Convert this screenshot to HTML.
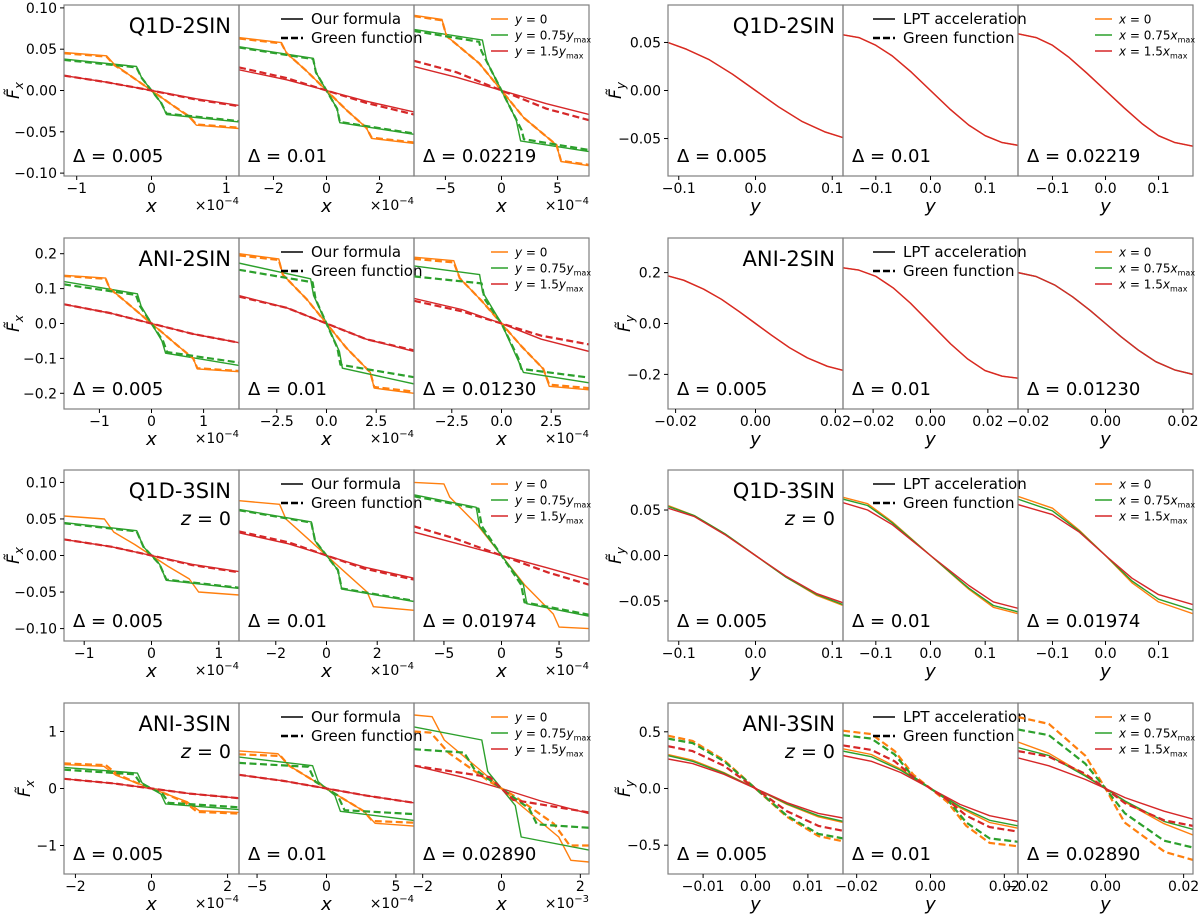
<!DOCTYPE html>
<html><head><meta charset="utf-8"><style>
body{margin:0;background:#fff;}
svg{display:block;font-family:"DejaVu Sans","Liberation Sans",sans-serif;}
</style></head><body>
<svg id="fig" width="1200" height="915" viewBox="0 0 1200 915" xmlns="http://www.w3.org/2000/svg"></svg>
<script>
// ---------- data ----------
const rowTitles = ["Q1D-2SIN","ANI-2SIN","Q1D-3SIN","ANI-3SIN"];
const deltas = [["0.005","0.01","0.02219"],["0.005","0.01","0.01230"],["0.005","0.01","0.01974"],["0.005","0.01","0.02890"]];
const leftXlim = [[1.17,3.3,7.8],[1.68,4.4,4.4],[1.3,3.45,7.6],[2.3,6.3,2.22]];
const rightXlim = [[0.114,0.16,0.165],[0.0219,0.0305,0.0226],[0.114,0.16,0.165],[0.0167,0.0237,0.0224]];
const leftYlim = [0.1035,0.245,0.117,1.5];
const rightYlim = [0.089,0.336,0.094,0.754];
const leftXticks = [[[-1,0,1],[-2,0,2],[-5,0,5]],[[-1,0,1],[-2.5,0,2.5],[-2.5,0,2.5]],[[-1,0,1],[-2,0,2],[-5,0,5]],[[-2,0,2],[-5,0,5],[-2,0,2]]];
const leftXtickLabels = [[["−1","0","1"],["−2","0","2"],["−5","0","5"]],[["−1","0","1"],["−2.5","0.0","2.5"],["−2.5","0.0","2.5"]],[["−1","0","1"],["−2","0","2"],["−5","0","5"]],[["−2","0","2"],["−5","0","5"],["−2","0","2"]]];
const leftExp = [["−4","−4","−4"],["−4","−4","−4"],["−4","−4","−4"],["−4","−4","−3"]];
const rightXticks = [[[-0.1,0,0.1],[-0.1,0,0.1],[-0.1,0,0.1]],[[-0.02,0,0.02],[-0.02,0,0.02],[-0.02,0,0.02]],[[-0.1,0,0.1],[-0.1,0,0.1],[-0.1,0,0.1]],[[-0.01,0,0.01],[-0.02,0,0.02],[-0.02,0,0.02]]];
const rightXtickLabels = [[["−0.1","0.0","0.1"],["−0.1","0.0","0.1"],["−0.1","0.0","0.1"]],[["−0.02","0.00","0.02"],["−0.02","0.00","0.02"],["−0.02","0.00","0.02"]],[["−0.1","0.0","0.1"],["−0.1","0.0","0.1"],["−0.1","0.0","0.1"]],[["−0.01","0.00","0.01"],["−0.02","0.00","0.02"],["−0.02","0.00","0.02"]]];
const leftYticks = [[0.1,0.05,0,-0.05,-0.1],[0.2,0.1,0,-0.1,-0.2],[0.1,0.05,0,-0.05,-0.1],[1,0,-1]];
const leftYtickLabels = [["0.10","0.05","0.00","−0.05","−0.10"],["0.2","0.1","0.0","−0.1","−0.2"],["0.10","0.05","0.00","−0.05","−0.10"],["1","0","−1"]];
const rightYticks = [[0.05,0,-0.05],[0.2,0,-0.2],[0.05,0,-0.05],[0.5,0,-0.5]];
const rightYtickLabels = [["0.05","0.00","−0.05"],["0.2","0.0","−0.2"],["0.05","0.00","−0.05"],["0.5","0.0","−0.5"]];

// series: [color, dashed, points]
const r1L = [
 [["o",0,[[-1.17,.046],[-.6,.042],[-.5,.032],[-.3,.019],[0,0],[.3,-.019],[.5,-.032],[.6,-.042],[1.17,-.046]]],
  ["g",0,[[-1.17,.038],[-.2,.029],[-.13,.015],[0,0],[.13,-.015],[.2,-.029],[1.17,-.038]]],
  ["r",0,[[-1.17,.018],[-.6,.010],[0,0],[.6,-.010],[1.17,-.018]]],
  ["o",1,[[-1.17,.045],[-.6,.041],[-.5,.031],[-.3,.019],[0,0],[.3,-.019],[.5,-.031],[.6,-.041],[1.17,-.045]]],
  ["g",1,[[-1.17,.037],[-.2,.028],[-.13,.015],[0,0],[.13,-.015],[.2,-.028],[1.17,-.037]]],
  ["r",1,[[-1.17,.018],[-.6,.010],[0,0],[.6,-.011],[1.17,-.019]]]],
 [["o",0,[[-3.3,.064],[-1.7,.058],[-1.5,.045],[-.8,.025],[0,0],[.8,-.025],[1.5,-.045],[1.7,-.058],[3.3,-.064]]],
  ["g",0,[[-3.3,.053],[-.5,.039],[-.4,.022],[0,0],[.4,-.022],[.5,-.039],[3.3,-.053]]],
  ["r",0,[[-3.3,.025],[-1.5,.013],[0,0],[1.5,-.013],[3.3,-.026]]],
  ["o",1,[[-3.3,.063],[-1.7,.057],[-1.5,.045],[-.8,.025],[0,0],[.8,-.025],[1.5,-.045],[1.7,-.057],[3.3,-.063]]],
  ["g",1,[[-3.3,.052],[-.5,.038],[-.4,.022],[0,0],[.4,-.022],[.5,-.038],[3.3,-.052]]],
  ["r",1,[[-3.3,.028],[-1.5,.015],[0,0],[1.5,-.015],[3.3,-.029]]]],
 [["o",0,[[-7.8,.091],[-5.3,.086],[-4.9,.066],[-2,.033],[0,0],[2,-.033],[4.9,-.066],[5.3,-.086],[7.8,-.091]]],
  ["g",0,[[-7.8,.074],[-1.7,.061],[-1.3,.035],[0,0],[1.3,-.035],[1.7,-.061],[7.8,-.074]]],
  ["r",0,[[-7.8,.029],[-4,.016],[0,0],[4,-.016],[7.8,-.029]]],
  ["o",1,[[-7.8,.090],[-5.3,.085],[-4.9,.066],[-2,.033],[0,0],[2,-.033],[4.9,-.066],[5.3,-.085],[7.8,-.090]]],
  ["g",1,[[-7.8,.072],[-2,.059],[-1.8,.048],[0,0],[1.8,-.048],[2,-.059],[7.8,-.072]]],
  ["r",1,[[-7.8,.036],[-4,.022],[0,0],[4,-.022],[7.8,-.036]]]]
];
const r1R = [
 [["o",0,[[-.114,.050],[-.09,.043],[-.06,.032],[-.03,.017],[0,0],[.03,-.017],[.06,-.032],[.09,-.043],[.114,-.049]]],
  ["r",0,[[-.114,.050],[-.09,.043],[-.06,.032],[-.03,.017],[0,0],[.03,-.017],[.06,-.032],[.09,-.043],[.114,-.049]]]],
 [["o",0,[[-.16,.058],[-.13,.055],[-.1,.047],[-.07,.036],[-.035,.019],[0,0],[.035,-.019],[.07,-.036],[.1,-.047],[.13,-.054],[.16,-.057]]],
  ["r",0,[[-.16,.058],[-.13,.055],[-.1,.047],[-.07,.036],[-.035,.019],[0,0],[.035,-.019],[.07,-.036],[.1,-.047],[.13,-.054],[.16,-.057]]]],
 [["o",0,[[-.165,.059],[-.13,.055],[-.1,.047],[-.07,.035],[-.035,.018],[0,0],[.035,-.018],[.07,-.035],[.1,-.047],[.13,-.054],[.165,-.058]]],
  ["r",0,[[-.165,.059],[-.13,.055],[-.1,.047],[-.07,.035],[-.035,.018],[0,0],[.035,-.018],[.07,-.035],[.1,-.047],[.13,-.054],[.165,-.058]]]]
];
const r2L = [
 [["o",0,[[-1.68,.138],[-.88,.13],[-.8,.10],[-.5,.063],[-.2,.025],[0,0],[.2,-.025],[.5,-.063],[.8,-.10],[.88,-.13],[1.68,-.138]]],
  ["g",0,[[-1.68,.12],[-.27,.085],[-.2,.05],[0,0],[.2,-.05],[.27,-.085],[1.68,-.12]]],
  ["r",0,[[-1.68,.055],[-.8,.03],[0,0],[.8,-.03],[1.68,-.055]]],
  ["o",1,[[-1.68,.136],[-.88,.128],[-.8,.10],[-.5,.063],[-.2,.025],[0,0],[.2,-.025],[.5,-.063],[.8,-.10],[.88,-.128],[1.68,-.136]]],
  ["g",1,[[-1.68,.112],[-.3,.082],[-.22,.05],[0,0],[.22,-.05],[.3,-.082],[1.68,-.112]]],
  ["r",1,[[-1.68,.055],[-.8,.03],[0,0],[.8,-.03],[1.68,-.055]]]],
 [["o",0,[[-4.4,.2],[-2.4,.185],[-2.2,.14],[-1,.07],[0,0],[1,-.07],[2.2,-.14],[2.4,-.185],[4.4,-.2]]],
  ["g",0,[[-4.4,.173],[-.8,.128],[-.65,.08],[0,0],[.65,-.08],[.8,-.128],[4.4,-.173]]],
  ["r",0,[[-4.4,.08],[-2,.045],[0,0],[2,-.045],[4.4,-.08]]],
  ["o",1,[[-4.4,.195],[-2.4,.182],[-2.2,.14],[-1,.07],[0,0],[1,-.07],[2.2,-.14],[2.4,-.182],[4.4,-.195]]],
  ["g",1,[[-4.4,.154],[-.7,.118],[-.55,.07],[0,0],[.55,-.07],[.7,-.118],[4.4,-.154]]],
  ["r",1,[[-4.4,.077],[-2,.045],[0,0],[2,-.045],[4.4,-.077]]]],
 [["o",0,[[-4.4,.19],[-2.4,.18],[-2.1,.13],[-1,.065],[0,0],[1,-.065],[2.1,-.13],[2.4,-.18],[4.4,-.19]]],
  ["g",0,[[-4.4,.165],[-1.1,.14],[-.95,.09],[0,0],[.95,-.12],[1.1,-.14],[4.4,-.17]]],
  ["r",0,[[-4.4,.072],[-2,.04],[0,0],[2,-.045],[4.4,-.08]]],
  ["o",1,[[-4.4,.185],[-2.4,.175],[-2.1,.13],[-1,.065],[0,0],[1,-.065],[2.1,-.13],[2.4,-.175],[4.4,-.185]]],
  ["g",1,[[-4.4,.135],[-1,.115],[-.85,.07],[0,0],[.85,-.1],[1,-.13],[4.4,-.155]]],
  ["r",1,[[-4.4,.065],[-2,.035],[0,0],[2,-.035],[4.4,-.06]]]]
];
const r2R = [
 [["o",0,[[-.0219,.187],[-.018,.17],[-.013,.135],[-.0085,.095],[-.004,.046],[0,0],[.004,-.046],[.0085,-.095],[.013,-.135],[.018,-.168],[.0219,-.184]]],
  ["r",0,[[-.0219,.187],[-.018,.17],[-.013,.135],[-.0085,.095],[-.004,.046],[0,0],[.004,-.046],[.0085,-.095],[.013,-.135],[.018,-.168],[.0219,-.184]]]],
 [["o",0,[[-.0305,.219],[-.025,.21],[-.019,.185],[-.013,.14],[-.007,.08],[0,0],[.007,-.08],[.013,-.14],[.019,-.185],[.025,-.207],[.0305,-.215]]],
  ["r",0,[[-.0305,.219],[-.025,.21],[-.019,.185],[-.013,.14],[-.007,.08],[0,0],[.007,-.08],[.013,-.14],[.019,-.185],[.025,-.207],[.0305,-.215]]]],
 [["g",0,[[-.0226,.2],[-.018,.185],[-.013,.15],[-.0085,.105],[-.004,.052],[0,0],[.004,-.052],[.0085,-.105],[.013,-.15],[.018,-.183],[.0226,-.2]]],
  ["r",0,[[-.0226,.2],[-.018,.185],[-.013,.15],[-.0085,.105],[-.004,.052],[0,0],[.004,-.052],[.0085,-.105],[.013,-.15],[.018,-.183],[.0226,-.2]]]]
];
const r3L = [
 [["o",0,[[-1.3,.054],[-.7,.05],[-.56,.032],[-.25,.015],[0,0],[.25,-.015],[.56,-.032],[.7,-.05],[1.3,-.054]]],
  ["g",0,[[-1.3,.045],[-.22,.034],[-.12,.012],[0,0],[.12,-.012],[.22,-.034],[1.3,-.045]]],
  ["r",0,[[-1.3,.022],[-.6,.012],[0,0],[.6,-.012],[1.3,-.022]]],
  ["g",1,[[-1.3,.044],[-.22,.033],[-.12,.012],[0,0],[.12,-.012],[.22,-.033],[1.3,-.044]]],
  ["r",1,[[-1.3,.022],[-.6,.012],[0,0],[.6,-.013],[1.3,-.023]]]],
 [["o",0,[[-3.45,.075],[-1.85,.07],[-1.6,.05],[-.8,.025],[0,0],[.8,-.025],[1.6,-.05],[1.85,-.07],[3.45,-.075]]],
  ["g",0,[[-3.45,.063],[-.6,.046],[-.45,.02],[0,0],[.45,-.02],[.6,-.046],[3.45,-.063]]],
  ["r",0,[[-3.45,.031],[-1.5,.016],[0,0],[1.5,-.016],[3.45,-.031]]],
  ["g",1,[[-3.45,.062],[-.6,.045],[-.45,.02],[0,0],[.45,-.02],[.6,-.045],[3.45,-.062]]],
  ["r",1,[[-3.45,.033],[-1.5,.018],[0,0],[1.5,-.018],[3.45,-.033]]]],
 [["o",0,[[-7.6,.1],[-5,.098],[-4.5,.08],[-2,.04],[0,0],[2,-.04],[4.5,-.08],[5,-.098],[7.6,-.1]]],
  ["g",0,[[-7.6,.083],[-2.2,.066],[-1.9,.04],[0,0],[1.9,-.04],[2.2,-.066],[7.6,-.083]]],
  ["r",0,[[-7.6,.032],[-4,.017],[0,0],[4,-.017],[7.6,-.033]]],
  ["g",1,[[-7.6,.081],[-2,.064],[-1.7,.04],[0,0],[1.7,-.04],[2,-.064],[7.6,-.081]]],
  ["r",1,[[-7.6,.04],[-4,.023],[0,0],[4,-.023],[7.6,-.04]]]]
];
const r3R = [
 [["o",0,[[-.114,.055],[-.08,.044],[-.04,.024],[0,0],[.04,-.024],[.08,-.044],[.114,-.055]]],
  ["g",0,[[-.114,.054],[-.08,.044],[-.04,.024],[0,0],[.04,-.024],[.08,-.043],[.114,-.054]]],
  ["r",0,[[-.114,.052],[-.08,.043],[-.04,.023],[0,0],[.04,-.023],[.08,-.042],[.114,-.052]]]],
 [["o",0,[[-.16,.064],[-.115,.057],[-.07,.037],[0,0],[.07,-.037],[.115,-.057],[.16,-.064]]],
  ["g",0,[[-.16,.062],[-.115,.055],[-.07,.036],[0,0],[.07,-.036],[.115,-.055],[.16,-.062]]],
  ["r",0,[[-.16,.058],[-.115,.05],[-.07,.034],[0,0],[.07,-.033],[.115,-.051],[.16,-.058]]]],
 [["o",0,[[-.165,.065],[-.1,.052],[-.05,.028],[0,0],[.05,-.03],[.1,-.051],[.165,-.064]]],
  ["g",0,[[-.165,.062],[-.1,.049],[-.05,.027],[0,0],[.05,-.028],[.1,-.048],[.165,-.06]]],
  ["r",0,[[-.165,.056],[-.1,.045],[-.05,.026],[0,0],[.05,-.025],[.1,-.043],[.165,-.054]]]]
];
const r4L = [
 [["o",0,[[-2.3,.42],[-1.25,.39],[-.93,.23],[-.4,.1],[0,0],[.4,-.1],[.93,-.23],[1.25,-.39],[2.3,-.42]]],
  ["g",0,[[-2.3,.37],[-.37,.27],[-.25,.1],[0,0],[.25,-.1],[.37,-.27],[2.3,-.37]]],
  ["r",0,[[-2.3,.17],[-1,.09],[0,0],[1,-.09],[2.3,-.17]]],
  ["o",1,[[-2.3,.44],[-1.2,.41],[-.9,.25],[-.4,.1],[0,0],[.4,-.1],[.9,-.25],[1.2,-.41],[2.3,-.44]]],
  ["g",1,[[-2.3,.33],[-.45,.25],[-.3,.1],[0,0],[.3,-.1],[.45,-.25],[2.3,-.33]]],
  ["r",1,[[-2.3,.17],[-1,.09],[0,0],[1,-.09],[2.3,-.17]]]],
 [["o",0,[[-6.3,.66],[-3.5,.61],[-2.7,.4],[-1,.15],[0,0],[1,-.15],[2.7,-.4],[3.5,-.61],[6.3,-.66]]],
  ["g",0,[[-6.3,.55],[-1,.4],[-.6,.12],[0,0],[.6,-.12],[1,-.4],[6.3,-.56]]],
  ["r",0,[[-6.3,.24],[-3,.13],[0,0],[3,-.13],[6.3,-.25]]],
  ["o",1,[[-6.3,.6],[-3.3,.57],[-2.7,.4],[-1,.15],[0,0],[1,-.15],[2.7,-.4],[3.3,-.57],[6.3,-.6]]],
  ["g",1,[[-6.3,.45],[-1.3,.38],[-.8,.12],[0,0],[.8,-.12],[1.3,-.38],[6.3,-.45]]],
  ["r",1,[[-6.3,.24],[-3,.13],[0,0],[3,-.13],[6.3,-.25]]]],
 [["o",0,[[-2.22,1.29],[-1.76,1.26],[-1.45,.85],[-.5,.3],[0,0],[.5,-.3],[1.45,-.85],[1.76,-1.26],[2.22,-1.29]]],
  ["g",0,[[-2.22,1.08],[-.5,.85],[-.35,.3],[0,0],[.35,-.3],[.5,-.85],[2.22,-1.08]]],
  ["r",0,[[-2.22,.4],[-1,.2],[0,0],[1,-.22],[2.22,-.44]]],
  ["o",1,[[-2.22,1.0],[-1.8,.98],[-1.33,.62],[-.3,.12],[0,0],[.3,-.12],[1.33,-.62],[1.73,-1.0],[2.22,-1.0]]],
  ["g",1,[[-2.22,.69],[-.95,.63],[-.7,.35],[0,0],[.7,-.35],[.9,-.63],[2.22,-.69]]],
  ["r",1,[[-2.22,.4],[-.3,.2],[0,0],[.3,-.2],[2.22,-.42]]]]
];
const r4R = [
 [["o",0,[[-.0167,.30],[-.012,.25],[-.006,.14],[0,0],[.006,-.14],[.012,-.25],[.0167,-.30]]],
  ["g",0,[[-.0167,.29],[-.012,.24],[-.006,.135],[0,0],[.006,-.135],[.012,-.24],[.0167,-.29]]],
  ["r",0,[[-.0167,.26],[-.012,.22],[-.006,.125],[0,0],[.006,-.125],[.012,-.22],[.0167,-.26]]],
  ["o",1,[[-.0167,.466],[-.012,.42],[-.006,.25],[0,0],[.006,-.25],[.012,-.42],[.0167,-.466]]],
  ["g",1,[[-.0167,.44],[-.012,.40],[-.006,.24],[0,0],[.006,-.24],[.012,-.40],[.0167,-.44]]],
  ["r",1,[[-.0167,.373],[-.012,.33],[-.006,.2],[0,0],[.006,-.2],[.012,-.33],[.0167,-.373]]]],
 [["o",0,[[-.0237,.35],[-.016,.30],[-.008,.17],[0,0],[.008,-.17],[.016,-.30],[.0237,-.35]]],
  ["g",0,[[-.0237,.33],[-.016,.28],[-.008,.16],[0,0],[.008,-.16],[.016,-.28],[.0237,-.33]]],
  ["r",0,[[-.0237,.29],[-.016,.24],[-.008,.14],[0,0],[.008,-.14],[.016,-.24],[.0237,-.29]]],
  ["o",1,[[-.0237,.51],[-.016,.48],[-.0097,.33],[-.0046,.12],[0,0],[.0046,-.12],[.0097,-.33],[.016,-.48],[.0237,-.51]]],
  ["g",1,[[-.0237,.47],[-.016,.44],[-.0097,.30],[-.0046,.1],[0,0],[.0046,-.1],[.0097,-.30],[.016,-.44],[.0237,-.47]]],
  ["r",1,[[-.0237,.38],[-.016,.34],[-.0097,.24],[-.0046,.1],[0,0],[.0046,-.1],[.0097,-.24],[.016,-.34],[.0237,-.38]]]],
 [["o",0,[[-.0224,.41],[-.0145,.31],[-.0052,.12],[0,0],[.005,-.12],[.015,-.31],[.0224,-.41]]],
  ["g",0,[[-.0224,.36],[-.0145,.29],[-.0052,.11],[0,0],[.005,-.11],[.015,-.29],[.0224,-.36]]],
  ["r",0,[[-.0224,.27],[-.0145,.2],[-.0052,.08],[0,0],[.005,-.08],[.015,-.2],[.0224,-.27]]],
  ["o",1,[[-.0224,.63],[-.0145,.57],[-.0052,.29],[0,0],[.0049,-.3],[.0152,-.56],[.0224,-.63]]],
  ["g",1,[[-.0224,.52],[-.0145,.47],[-.0052,.22],[0,0],[.005,-.22],[.015,-.46],[.0224,-.52]]],
  ["r",1,[[-.0224,.33],[-.0145,.28],[-.0052,.13],[0,0],[.005,-.13],[.015,-.28],[.0224,-.33]]]]
];
const leftSeries = [r1L,r2L,r3L,r4L];
const rightSeries = [r1R,r2R,r3R,r4R];

// ---------- layout ----------
const NS="http://www.w3.org/2000/svg";
const svg=document.getElementById('fig');
const rowTop=[5,238,470,703], PH=171, PW=175;
const leftX0=[64,239,414], rightX0=[668,843,1018];
const COL={o:"#ff7f0e",g:"#2ca02c",r:"#d62728"};
const NAMES={o:"orange",g:"green",r:"red"};
function el(tag,attrs,parent){const e=document.createElementNS(NS,tag);for(const k in attrs)e.setAttribute(k,attrs[k]);(parent||svg).appendChild(e);return e;}
function txt(x,y,s,size,anchor,parent,extra){const t=el('text',Object.assign({x:x,y:y,'font-size':size,'text-anchor':anchor||'start',fill:'#000'},extra||{}),parent);t.textContent=s;return t;}

function drawPanel(r,c,side){
  const x0=(side==='L'?leftX0:rightX0)[c], y0=rowTop[r];
  const xl=(side==='L'?leftXlim:rightXlim)[r][c], yl=(side==='L'?leftYlim:rightYlim)[r];
  const sx=v=>x0+(v+xl)/(2*xl)*PW, sy=v=>y0+(yl-v)/(2*yl)*PH;
  const g=el('g',{});
  
  
  const cp='cp'+side+r+c;
  const cl=el('clipPath',{id:cp},g); el('rect',{x:x0,y:y0,width:PW,height:PH},cl);
  const lines=el('g',{'clip-path':'url(#'+cp+')'},g);
  const ser=(side==='L'?leftSeries:rightSeries)[r][c];
  ser.forEach(s=>{
    const d=s[2].map((p,i)=>(i?'L':'M')+sx(p[0]).toFixed(1)+' '+sy(p[1]).toFixed(1)).join(' ');
    const p=el('path',{d:d,fill:'none',stroke:COL[s[0]],'stroke-width':s[1]?2.2:1.4,'stroke-dasharray':s[1]?'7 3.5':'none','stroke-linejoin':'round'},lines);
    
    
  });
  const fr=el('rect',{x:x0,y:y0,width:PW,height:PH,fill:'none',stroke:'#7f7f7f','stroke-width':1.2},g);
  
  
  const xt=(side==='L'?leftXticks:rightXticks)[r][c], xtl=(side==='L'?leftXtickLabels:rightXtickLabels)[r][c];
  xt.forEach((v,i)=>{
    el('line',{x1:sx(v),x2:sx(v),y1:y0+PH,y2:y0+PH+4,stroke:'#000','stroke-width':1},g);
    const t=txt(sx(v),y0+PH+17,xtl[i],14,'middle',g);
    
    
  });
  const xlab=txt(x0+PW/2,y0+PH+36,side==='L'?'x':'y',18,'middle',g,{'font-style':'italic'});
  
  
  if(side==='L'){
    const ex=el('text',{x:x0+PW,y:y0+PH+34,'font-size':14,'text-anchor':'end'},g);
    ex.innerHTML='×10<tspan dy="-6" font-size="10">'+leftExp[r][c]+'</tspan>';
    
    
  }
  if(c===0){
    const yt=(side==='L'?leftYticks:rightYticks)[r], ytl=(side==='L'?leftYtickLabels:rightYtickLabels)[r];
    yt.forEach((v,i)=>{
      el('line',{x1:x0-4,x2:x0,y1:sy(v),y2:sy(v),stroke:'#000','stroke-width':1},g);
      const t=txt(x0-7,sy(v)+5,ytl[i],14,'end',g);
      
      
    });
    const yx=x0-(side==='L'?(r===3?34:45):(r===3||r===1?38:47)), yy=y0+PH/2;
    const yl2=el('text',{x:yx,y:yy,'font-size':17,'text-anchor':'middle','font-style':'italic',transform:'rotate(-90 '+yx+' '+yy+')'},g);
    yl2.innerHTML='F̃<tspan dy="4" font-size="12">'+(side==='L'?'x':'y')+'</tspan>';
    
    
    const tt=txt(x0+PW-8,y0+28,rowTitles[r],21,'end',g);
    
    
    if(r>=2){const z=el('text',{x:x0+PW-8,y:y0+55,'font-size':19,'text-anchor':'end'},g);
      z.innerHTML='<tspan font-style="italic">z</tspan> = 0';
      
      }
  }
  const dl=txt(x0+9,y0+PH-14,'Δ = '+deltas[r][c],18,'start',g);
  
  
  if(c===1){
    const lg=el('g',{},g);
    
    
    const lx=x0+(side==='L'?42:30);
    el('line',{x1:lx,x2:lx+22,y1:y0+14,y2:y0+14,stroke:'#000','stroke-width':1.5},lg);
    el('line',{x1:lx,x2:lx+22,y1:y0+33,y2:y0+33,stroke:'#000','stroke-width':2.4,'stroke-dasharray':'7 3'},lg);
    txt(lx+30,y0+19,side==='L'?'Our formula':'LPT acceleration',15,'start',lg);
    txt(lx+30,y0+38,'Green function',15,'start',lg);
  }
  if(c===2){
    const lg=el('g',{},g);
    
    
    const v=side==='L'?'y':'x';
    const labs=[' = 0',' = 0.75',' = 1.5'];
    ['o','g','r'].forEach((k,i)=>{
      const yy=y0+14+i*16;
      el('line',{x1:x0+77,x2:x0+94,y1:yy,y2:yy,stroke:COL[k],'stroke-width':1.5},lg);
      const t=el('text',{x:x0+101,y:yy+4.5,'font-size':12},lg);
      t.innerHTML='<tspan font-style="italic">'+v+'</tspan>'+labs[i]+(i?'<tspan font-style="italic">'+v+'</tspan><tspan font-size="8" dy="3">max</tspan>':'');
      
      
    });
  }
}
for(let r=0;r<4;r++)for(let c=0;c<3;c++){drawPanel(r,c,'L');drawPanel(r,c,'R');}
</script>
</body></html>
